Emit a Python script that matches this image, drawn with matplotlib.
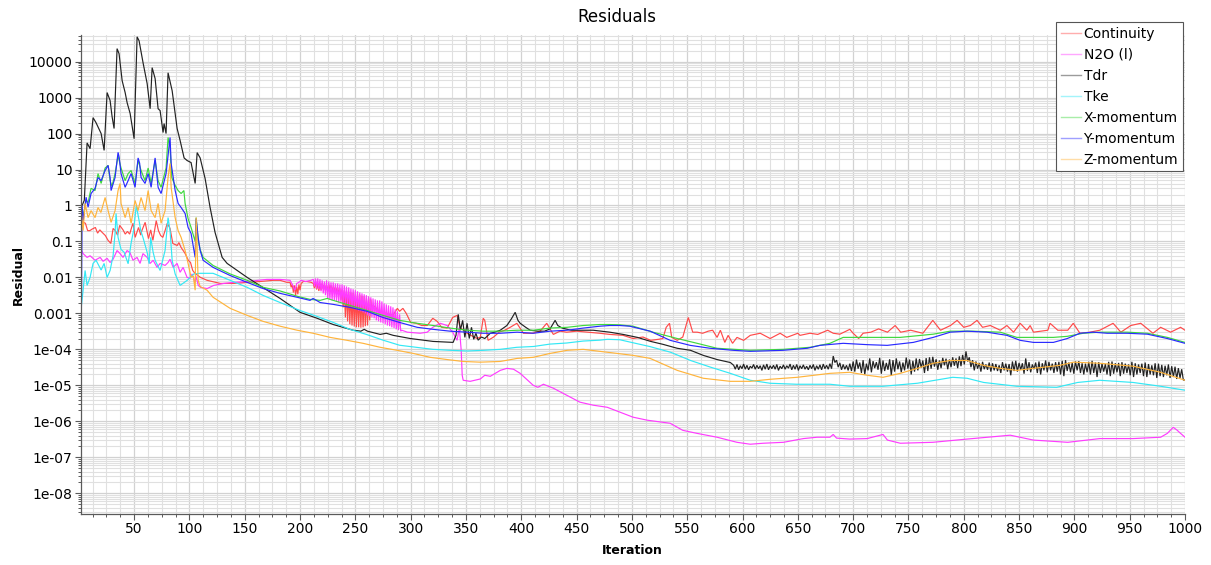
import numpy as np
import matplotlib
matplotlib.use("Agg")
import matplotlib.pyplot as plt
from matplotlib.ticker import FixedLocator, FixedFormatter, LogLocator, MultipleLocator, NullFormatter
from matplotlib.lines import Line2D

# ---------------- data (iteration, residual) ----------------
series_names = ["Continuity", "N2O (l)", "Tdr", "Tke", "X-momentum", "Y-momentum", "Z-momentum"]
series_colors = ["#ff4a4a", "#ff3cff", "#222222", "#33e8f5", "#3ed83e", "#2a2aff", "#ffb43c"]

cont_head = [(2, 1.0), (4, 0.34), (6, 0.32), (8, 0.2), (10, 0.2), (12, 0.22), (15, 0.245), (17, 0.17),
             (19, 0.21), (21, 0.18), (24, 0.146), (26.5, 0.107), (29, 0.088), (31, 0.23), (33, 0.2),
             (35, 0.15), (37, 0.28), (40, 0.21), (42, 0.16), (44, 0.19), (46, 0.16), (48, 0.26),
             (49, 0.32), (51, 0.13), (54, 0.245), (56, 0.15), (57, 0.2), (60, 0.34), (63, 0.12),
             (65, 0.21), (67, 0.107), (70, 0.38), (72, 0.2), (74, 0.146), (76, 0.13), (78, 0.2),
             (80, 0.32), (82.5, 0.23), (84, 0.13), (85, 0.088), (89, 0.077), (90.5, 0.093),
             (92.5, 0.068), (96, 0.047), (99, 0.03), (101, 0.026), (103, 0.0156), (105, 0.013),
             (110, 0.01), (116, 0.0083), (128, 0.0068), (140, 0.0068), (152, 0.0073), (164, 0.0077),
             (176, 0.0083), (182, 0.0083), (188, 0.0073), (191, 0.0073), (192, 5.3e-3), (193, 6.4e-3),
             (194, 3.8e-3), (195, 6.0e-3), (196, 3.16e-3), (197, 5.6e-3), (198, 3.4e-3), (199, 6.4e-3),
             (200, 4.4e-3), (201, 6.8e-3), (203, 7.7e-3), (206, 7.7e-3), (210, 7.3e-3)]
cont_osc1_start = 212
cont_osc1_hi = [6.8e-3, 7.3e-3, 6.8e-3, 6.4e-3, 6.8e-3, 6.4e-3, 6.0e-3, 6.4e-3, 6.0e-3, 5.6e-3, 5.6e-3, 5.3e-3]
cont_osc1_lo = [5.0e-3, 4.6e-3, 4.2e-3, 4.4e-3, 4.8e-3, 4.4e-3, 4.2e-3, 4.4e-3, 4.0e-3, 4.2e-3, 3.9e-3, 3.6e-3]
cont_osc2_start = 236
cont_osc2_hi = [4.9e-3, 4.6e-3, 4.4e-3, 4.2e-3, 4.0e-3, 3.8e-3, 3.7e-3, 3.6e-3, 3.4e-3, 3.3e-3,
                3.1e-3, 3.0e-3, 2.8e-3, 2.6e-3, 2.45e-3]
cont_osc2_lo = [2.3e-3, 1.47e-3, 7.7e-4, 6.0e-4, 5.0e-4, 4.6e-4, 4.3e-4, 4.1e-4, 4.1e-4, 4.0e-4,
                4.1e-4, 4.4e-4, 4.6e-4, 6.4e-4, 1.0e-3]
cont_tail = [(266, 1.67e-3), (268, 1.5e-3), (272, 1.07e-3), (278, 1.0e-3), (284, 8.8e-4), (288, 1.38e-3),
             (290, 1.14e-3), (293, 1.38e-3), (296, 1.0e-3), (300, 5.6e-4), (305, 5.3e-4), (310, 4.6e-4),
             (315, 4.6e-4), (320, 7.3e-4), (324, 6.0e-4), (328, 4.1e-4), (333, 3.9e-4), (338, 7.7e-4),
             (342, 8.8e-4), (345, 3.9e-4), (348, 3.4e-4), (351, 2.8e-4), (355, 2.4e-4), (360, 2.0e-4),
             (363, 2.2e-4), (365.6, 7.3e-4), (367, 6.4e-4), (370, 1.78e-4), (375, 2.2e-4), (380, 3.0e-4),
             (385, 3.4e-4), (390, 4.1e-4), (396, 5.3e-4), (402, 2.8e-4), (410, 2.8e-4), (417, 3.2e-4),
             (423, 5.3e-4), (429, 2.6e-4), (435, 3.2e-4), (441, 3.0e-4), (450, 3.2e-4), (460, 3.0e-4),
             (471, 2.8e-4), (480, 2.6e-4), (492, 2.45e-4), (501, 2.0e-4), (510, 2.2e-4), (517, 1.78e-4),
             (524, 1.9e-4), (528, 2.0e-4), (531, 4.1e-4), (534, 5.3e-4), (536, 2.15e-4), (541, 1.78e-4),
             (546, 2.2e-4), (551, 7.7e-4), (555, 3.0e-4), (559, 3.0e-4), (564, 2.8e-4), (569, 3.2e-4),
             (573, 3.4e-4), (577, 2.15e-4), (580, 3.4e-4), (584, 1.56e-4), (587, 2.45e-4), (591, 1.47e-4),
             (595, 2.15e-4), (601, 1.78e-4), (607, 2.45e-4), (616, 2.8e-4), (625, 2.0e-4), (634, 2.8e-4),
             (640, 2.15e-4), (650, 2.8e-4), (652, 2.45e-4), (661, 2.8e-4), (668, 2.6e-4), (677, 3.4e-4),
             (682, 2.8e-4), (688, 2.64e-4), (697, 3.6e-4), (700, 2.8e-4), (705, 2.0e-4), (709, 2.8e-4),
             (716, 3.0e-4), (723, 3.7e-4), (731, 3.0e-4), (738, 4.6e-4), (743, 3.0e-4), (752, 3.4e-4),
             (763, 2.8e-4), (772, 6.4e-4), (779, 3.4e-4), (788, 4.6e-4), (794, 6.4e-4), (800, 4.1e-4),
             (806, 4.6e-4), (812, 6.4e-4), (817, 4.1e-4), (824, 4.6e-4), (833, 3.4e-4), (839, 4.6e-4),
             (845, 3.0e-4), (851, 5.3e-4), (857, 3.4e-4), (860, 4.6e-4), (863, 3.0e-4), (876, 3.4e-4),
             (878, 5.3e-4), (885, 3.4e-4), (894, 3.4e-4), (899, 5.3e-4), (905, 2.8e-4), (914, 3.0e-4),
             (923, 3.4e-4), (935, 5.3e-4), (942, 3.0e-4), (951, 4.6e-4), (960, 5.3e-4), (971, 2.8e-4),
             (978, 4.1e-4), (987, 3.0e-4), (996, 4.1e-4), (1000, 3.4e-4)]

n2o_head = [(2, 0.06), (3.9, 0.046), (7.5, 0.036), (10.2, 0.04), (14.7, 0.03), (19.3, 0.036), (22, 0.028),
            (25.6, 0.034), (28.3, 0.026), (31, 0.032), (34.6, 0.056), (37.3, 0.046), (40, 0.036),
            (43.7, 0.056), (46.4, 0.048), (49, 0.03), (52.7, 0.036), (55.4, 0.0245), (58, 0.046),
            (61.8, 0.036), (64.5, 0.0245), (67.2, 0.03), (70.8, 0.019), (73.5, 0.0245), (78, 0.0215),
            (80.7, 0.026), (82.5, 0.032), (85.3, 0.019), (88.9, 0.0245), (91.6, 0.0139), (94.3, 0.019),
            (97.9, 0.01), (100.6, 0.0094), (102.4, 0.0125), (105.2, 0.0073), (106, 0.0107), (108, 0.006),
            (110, 0.0053), (116, 0.0049), (122, 0.006), (131, 0.0068), (140, 0.0073), (152, 0.0077),
            (170, 0.0088), (182, 0.0088), (191, 0.0083), (194, 0.0056), (195, 0.0044), (196, 0.0049),
            (197, 0.0068), (199, 0.0073), (201, 0.0083), (205, 0.0077), (210, 0.0083)]
n2o_osc_start = 212
n2o_osc_hi = [8.9e-3, 9.4e-3, 9.4e-3, 8.9e-3, 8.3e-3, 7.7e-3, 8.3e-3, 7.7e-3, 7.3e-3, 7.3e-3,
              6.8e-3, 6.8e-3, 6.4e-3, 6.4e-3, 6.0e-3, 5.6e-3, 5.3e-3, 4.9e-3, 4.7e-3, 4.4e-3,
              4.1e-3, 3.8e-3, 3.6e-3, 3.4e-3, 3.2e-3, 3.0e-3, 2.8e-3, 2.6e-3, 2.45e-3, 2.3e-3,
              2.3e-3, 2.15e-3, 1.9e-3, 1.78e-3, 1.67e-3, 1.57e-3, 1.47e-3, 1.3e-3, 1.14e-3, 9.4e-4]
n2o_osc_lo = [5.6e-3, 4.9e-3, 4.7e-3, 4.1e-3, 3.6e-3, 3.2e-3, 2.6e-3, 2.45e-3, 2.3e-3, 2.3e-3,
              2.15e-3, 2.0e-3, 2.0e-3, 1.9e-3, 1.78e-3, 1.67e-3, 1.57e-3, 1.47e-3, 1.38e-3, 1.3e-3,
              1.2e-3, 1.14e-3, 1.07e-3, 1.0e-3, 8.8e-4, 8.3e-4, 7.7e-4, 7.3e-4, 6.4e-4, 6.0e-4,
              5.6e-4, 5.3e-4, 5.0e-4, 4.6e-4, 4.4e-4, 4.1e-4, 3.9e-4, 3.6e-4, 3.4e-4, 3.2e-4]
n2o_tail = [(292, 3.4e-4), (297, 3.0e-4), (308.6, 2.8e-4), (315, 3.0e-4), (320, 4.1e-4), (326.7, 5.3e-4),
            (333, 4.6e-4), (338, 3.0e-4), (342, 1.78e-4), (344, 4.1e-4), (345.7, 9.4e-5), (346.6, 1.9e-5),
            (347.5, 1.38e-5), (353.8, 1.29e-5), (363, 1.5e-5), (367, 1.9e-5), (372, 1.78e-5),
            (381, 2.6e-5), (387, 2.96e-5), (393, 2.8e-5), (399, 2.15e-5), (410.8, 1.0e-5), (415, 8.8e-6),
            (420, 1.07e-5), (429, 8.3e-6), (441.5, 5.2e-6), (453, 3.4e-6), (465, 2.8e-6), (477.7, 2.45e-6),
            (489, 1.8e-6), (501, 1.3e-6), (514, 1.07e-6), (534.6, 8.8e-7), (546, 5.6e-7), (559, 4.6e-7),
            (577, 3.6e-7), (595, 2.6e-7), (607, 2.3e-7), (618.7, 2.45e-7), (637, 2.6e-7), (655, 3.3e-7),
            (667.5, 3.6e-7), (679, 3.6e-7), (682, 4.3e-7), (685, 3.4e-7), (697, 3.2e-7), (712.7, 3.3e-7),
            (727, 4.3e-7), (731, 3.0e-7), (742.6, 2.45e-7), (772, 2.6e-7), (803, 3.2e-7), (842, 4.1e-7),
            (863, 3.0e-7), (894, 2.6e-7), (923, 3.3e-7), (953, 3.3e-7), (978, 3.6e-7), (984, 4.6e-7),
            (989.4, 6.8e-7), (993, 5.6e-7), (996, 4.6e-7), (1000, 3.6e-7)]

tdr_head = [(2, 0.9), (3, 1.0), (5, 1.4), (7.5, 55), (10.2, 38), (12.9, 277), (15.6, 200), (20.2, 100),
            (22.9, 34), (25.6, 1380), (28.3, 830), (30.1, 296), (31.9, 138), (34.6, 23000), (36.4, 16600),
            (39.2, 2950), (41.9, 1380), (43.7, 720), (46.4, 363), (50, 72), (52.7, 49000), (54.5, 38000),
            (58.1, 9300), (61.8, 2450), (64.5, 490), (66.3, 6800), (69, 3380), (71.7, 490), (73.5, 436),
            (76.2, 107), (77.1, 190), (78.9, 100), (80.7, 4900), (84.4, 1550), (88.9, 138), (91.6, 64),
            (95.2, 21), (97.9, 17.8), (101.5, 15.6), (105.2, 4.1), (107, 29.5), (109.7, 21), (114.2, 5.6),
            (118.7, 0.88), (123.2, 0.178), (129.6, 0.036), (134.1, 0.0245), (152.2, 0.01), (182, 2.6e-3),
            (200, 1.07e-3), (215.5, 7.3e-4), (230, 4.9e-4), (248, 3.4e-4), (255, 3.2e-4), (258, 3.6e-4),
            (261, 3.2e-4), (272.4, 2.6e-4), (278, 2.8e-4), (284.2, 2.45e-4), (299.6, 2.0e-4),
            (320.3, 1.66e-4), (338.4, 1.56e-4), (341, 2.45e-4), (343, 9.4e-4), (345, 3.4e-4), (347, 6.4e-4),
            (349, 2.15e-4), (351, 5.3e-4), (353, 2.0e-4), (355, 4.1e-4), (357, 1.9e-4), (359, 2.8e-4),
            (361, 1.8e-4), (364, 2.2e-4), (367, 2.0e-4), (370, 2.45e-4), (372, 2.8e-4), (376, 3.0e-4),
            (381, 3.4e-4), (387, 4.6e-4), (391, 7.0e-4), (394.5, 1.07e-3), (397, 6.4e-4), (399, 5.3e-4),
            (404, 4.1e-4), (408, 3.4e-4), (415, 3.2e-4), (421, 3.2e-4), (426, 3.7e-4), (430.6, 6.4e-4),
            (433, 4.6e-4), (437, 3.9e-4), (445, 3.4e-4), (456, 3.4e-4), (465, 3.4e-4), (480, 3.0e-4),
            (492, 2.6e-4), (505, 2.15e-4), (517, 1.66e-4), (528, 1.38e-4), (541, 1.07e-4), (553, 9.4e-5),
            (564.5, 6.8e-5), (577, 5.2e-5), (589, 4.3e-5)]
tdr_noise_start = 592
tdr_noise_step = 1.5
tdr_noise_hi = [3.6e-5, 3.8e-5, 3.5e-5, 3.9e-5, 3.6e-5, 3.4e-5, 3.8e-5, 3.6e-5, 3.5e-5, 3.7e-5,
                3.9e-5, 3.5e-5, 3.6e-5, 3.8e-5, 3.4e-5, 3.7e-5, 3.5e-5, 3.9e-5, 3.6e-5, 3.8e-5,
                3.5e-5, 3.7e-5, 3.4e-5, 3.6e-5, 3.8e-5, 3.5e-5, 3.7e-5, 3.9e-5, 3.6e-5, 4.0e-5,
                6.5e-5, 5.0e-5, 4.2e-5, 3.8e-5, 3.6e-5, 4.0e-5, 4.6e-5, 5.2e-5, 4.3e-5, 5.0e-5,
                4.0e-5, 5.6e-5, 4.7e-5, 4.4e-5, 5.8e-5, 4.9e-5, 4.2e-5, 5.3e-5, 5.0e-5, 5.6e-5,
                4.6e-5, 4.3e-5, 5.9e-5, 5.2e-5, 4.8e-5, 5.6e-5, 5.4e-5, 4.9e-5, 5.7e-5, 6.0e-5,
                6.2e-5, 5.3e-5, 4.9e-5, 5.8e-5, 5.5e-5, 5.2e-5, 6.0e-5, 5.6e-5, 6.4e-5, 7.0e-5,
                8.8e-5, 6.0e-5, 5.0e-5, 4.6e-5, 4.2e-5, 4.5e-5, 3.8e-5, 4.3e-5, 4.1e-5, 3.9e-5,
                3.6e-5, 4.4e-5, 4.0e-5, 3.9e-5, 4.6e-5, 4.8e-5, 4.2e-5, 4.1e-5, 5.6e-5, 4.4e-5,
                3.8e-5, 4.3e-5, 4.6e-5, 4.1e-5, 4.9e-5, 4.5e-5, 4.0e-5, 4.4e-5, 4.5e-5, 4.8e-5,
                5.0e-5, 4.3e-5, 4.2e-5, 4.6e-5, 4.7e-5, 4.1e-5, 4.0e-5, 4.5e-5, 4.8e-5, 4.3e-5,
                4.4e-5, 4.0e-5, 3.9e-5, 4.5e-5, 4.6e-5, 4.1e-5, 4.2e-5, 4.4e-5, 4.0e-5, 3.8e-5,
                4.5e-5, 4.1e-5, 3.8e-5, 4.0e-5, 4.3e-5, 3.9e-5, 3.6e-5, 4.1e-5, 4.0e-5, 3.7e-5,
                3.5e-5, 3.8e-5, 3.4e-5, 3.3e-5, 3.0e-5, 2.8e-5]
tdr_noise_lo = [2.8e-5, 2.7e-5, 2.9e-5, 2.8e-5, 2.7e-5, 3.0e-5, 2.8e-5, 2.9e-5, 2.6e-5, 2.8e-5,
                2.7e-5, 2.9e-5, 2.8e-5, 2.6e-5, 2.9e-5, 2.8e-5, 3.0e-5, 2.7e-5, 2.8e-5, 2.6e-5,
                2.9e-5, 2.8e-5, 2.7e-5, 2.9e-5, 2.6e-5, 2.8e-5, 2.7e-5, 2.9e-5, 2.8e-5, 2.9e-5,
                4.3e-5, 3.2e-5, 2.7e-5, 2.8e-5, 2.6e-5, 2.5e-5, 2.4e-5, 2.9e-5, 2.2e-5, 2.0e-5,
                2.6e-5, 2.3e-5, 3.0e-5, 2.7e-5, 2.1e-5, 2.5e-5, 2.7e-5, 1.9e-5, 2.4e-5, 2.8e-5,
                2.3e-5, 2.6e-5, 2.9e-5, 2.0e-5, 2.4e-5, 2.6e-5, 3.1e-5, 2.2e-5, 2.5e-5, 2.9e-5,
                3.3e-5, 2.7e-5, 3.0e-5, 3.6e-5, 2.8e-5, 3.2e-5, 3.5e-5, 3.0e-5, 3.4e-5, 3.8e-5,
                4.6e-5, 3.2e-5, 2.6e-5, 2.9e-5, 2.4e-5, 2.8e-5, 2.7e-5, 2.4e-5, 2.6e-5, 2.5e-5,
                2.2e-5, 2.6e-5, 2.4e-5, 1.9e-5, 2.5e-5, 2.4e-5, 2.7e-5, 2.1e-5, 2.5e-5, 2.3e-5,
                2.8e-5, 2.2e-5, 2.0e-5, 2.6e-5, 2.3e-5, 2.6e-5, 2.2e-5, 2.4e-5, 2.0e-5, 1.8e-5,
                2.5e-5, 2.3e-5, 2.1e-5, 2.6e-5, 2.2e-5, 2.0e-5, 2.3e-5, 2.0e-5, 2.2e-5, 1.7e-5,
                2.2e-5, 2.4e-5, 2.0e-5, 1.8e-5, 2.1e-5, 2.3e-5, 1.8e-5, 2.1e-5, 2.2e-5, 1.9e-5,
                1.7e-5, 2.0e-5, 2.2e-5, 1.8e-5, 1.7e-5, 2.0e-5, 1.9e-5, 1.6e-5, 1.8e-5, 1.7e-5,
                1.9e-5, 1.6e-5, 1.7e-5, 1.5e-5, 1.6e-5, 1.4e-5]
tdr_tail = [(1000, 1.4e-5)]

tke = [(2, 1.3e-3), (3.9, 4.4e-3), (5.7, 0.0156), (7.5, 0.006), (10.2, 0.01), (12.9, 0.0245), (15.6, 0.03),
       (20.2, 0.016), (22.9, 0.0245), (25.6, 0.01), (28.3, 0.0156), (31, 0.04), (32.8, 0.17), (33.7, 0.6),
       (35.5, 0.13), (38.2, 0.06), (41, 0.05), (44.6, 0.024), (47.3, 0.09), (49.5, 0.2), (52, 1.0),
       (54.5, 0.38), (56, 0.2), (58, 0.13), (61.8, 0.05), (63.6, 0.024), (65, 0.13), (67.2, 0.05),
       (69, 0.03), (73.5, 0.0156), (78, 0.056), (80.7, 0.46), (82.5, 0.2), (84.4, 0.03), (87.1, 0.0125),
       (91.6, 0.006), (98, 0.0083), (104, 0.0125), (109.7, 0.013), (116, 0.013), (121.4, 0.013),
       (136.8, 8.3e-3), (152.2, 5.3e-3), (166.6, 3.16e-3), (182, 2.0e-3), (200, 1.2e-3), (215, 8.3e-4),
       (230, 5.6e-4), (245, 3.6e-4), (260, 2.6e-4), (275, 1.8e-4), (290, 1.3e-4), (305, 1.14e-4),
       (320, 1.0e-4), (336, 9.4e-5), (351, 9.0e-5), (366, 9.4e-5), (381, 1.0e-4), (396, 1.14e-4),
       (411, 1.2e-4), (426, 1.4e-4), (441, 1.5e-4), (456, 1.7e-4), (471, 1.8e-4), (478, 1.9e-4),
       (489, 1.85e-4), (498, 1.6e-4), (516, 1.2e-4), (535, 8.3e-5), (553, 4.9e-5), (571, 3.2e-5),
       (589, 2.15e-5), (607, 1.38e-5), (625, 1.14e-5), (649, 1.07e-5), (679, 1.07e-5), (697, 9.4e-6),
       (727, 9.4e-6), (758, 1.14e-5), (790, 1.67e-5), (803, 1.57e-5), (818, 1.2e-5), (848, 9.4e-6),
       (884, 8.8e-6), (903, 1.2e-5), (923, 1.38e-5), (953, 1.2e-5), (978, 9.4e-6), (1000, 7.3e-6)]

xmom = [(2, 1.0), (4, 0.5), (6.6, 1.4), (8.4, 1.2), (11.1, 3.0), (14.7, 2.6), (17.4, 7.7), (20.2, 4.1),
        (23.8, 11), (26.5, 13), (28.3, 4.9), (30, 3.4), (32.8, 7.7), (35.5, 24), (38.2, 11), (41.9, 4.9),
        (44.6, 7.7), (47.3, 9.4), (50.9, 4.1), (53.6, 18), (56.3, 9.4), (59.9, 4.9), (62.7, 11), (65.4, 4.1),
        (69, 18), (71.7, 4.9), (74.4, 3.2), (78.9, 11), (80.7, 78), (82.5, 40), (84, 6.0), (87.1, 3.6),
        (89.8, 2.6), (92.5, 2.15), (95, 2.6), (96.1, 1.14), (98.8, 0.43), (101.5, 0.245), (105.2, 0.1),
        (106.1, 0.46), (107.9, 0.107), (109.7, 0.06), (112.4, 0.036), (121.4, 0.0215), (136.8, 0.0125),
        (152.2, 8.3e-3), (166.6, 5.3e-3), (182, 4.2e-3), (197.4, 3.0e-3), (209, 2.45e-3), (218.2, 2.3e-3),
        (224.5, 2.6e-3), (230, 2.3e-3), (245, 1.67e-3), (260.7, 1.2e-3), (275, 8.8e-4), (290, 6.4e-4),
        (305.9, 5.3e-4), (320.3, 4.6e-4), (335.7, 3.9e-4), (351, 3.4e-4), (365.6, 3.2e-4), (381, 3.2e-4),
        (396.3, 3.4e-4), (410.8, 3.4e-4), (426, 3.9e-4), (441.5, 4.1e-4), (456, 4.6e-4), (471, 4.9e-4),
        (480, 4.9e-4), (489, 4.8e-4), (501, 4.4e-4), (519, 3.0e-4), (541, 2.0e-4), (559, 1.47e-4),
        (577, 1.07e-4), (607, 9.4e-5), (637, 1.0e-4), (661, 1.14e-4), (679, 1.47e-4), (691, 2.15e-4),
        (712.7, 2.15e-4), (742.6, 2.15e-4), (772.4, 2.64e-4), (787.8, 3.2e-4), (808.6, 3.2e-4),
        (833, 3.0e-4), (848, 2.15e-4), (863, 2.15e-4), (881, 2.15e-4), (893.6, 2.3e-4), (908, 2.8e-4),
        (923, 3.0e-4), (947.8, 3.0e-4), (966, 2.8e-4), (984, 2.15e-4), (1000, 1.56e-4)]

ymom = [(2, 3e-5), (3, 1.0), (4, 0.38), (6.6, 1.7), (8.4, 0.9), (11.1, 2.15), (14.7, 3.0), (17.4, 6.0),
        (20.2, 4.9), (23.8, 9.4), (26.5, 13), (28.3, 6.0), (29.2, 2.6), (32.8, 6.0), (35.5, 30), (36.5, 22),
        (38.2, 7.7), (41.9, 3.2), (44.6, 4.9), (47.3, 7.7), (50.9, 3.2), (53.6, 21), (55, 15), (56.3, 6.0),
        (59.9, 4.1), (62.7, 7.7), (65.4, 3.2), (69, 21), (71.7, 3.2), (74.4, 2.15), (78.9, 7.7), (82.5, 78),
        (83.5, 14.7), (87.1, 2.6), (89.8, 1.14), (92.5, 0.88), (96.1, 0.6), (98.8, 0.245), (101.5, 0.167),
        (105.2, 0.036), (106.1, 0.43), (107.9, 0.13), (109.7, 0.056), (112.4, 0.03), (121.4, 0.019),
        (136.8, 0.0113), (152.2, 7.3e-3), (166.6, 4.9e-3), (182, 3.6e-3), (197.4, 2.8e-3), (209, 2.3e-3),
        (211.8, 2.6e-3), (218.2, 2.0e-3), (230, 1.78e-3), (245, 1.47e-3), (260.7, 1.14e-3), (275, 7.7e-4),
        (290, 5.6e-4), (305.9, 4.1e-4), (320.3, 3.6e-4), (335.7, 3.2e-4), (351, 3.0e-4), (365.6, 2.8e-4),
        (381, 2.8e-4), (396.3, 3.0e-4), (410.8, 2.8e-4), (426, 3.2e-4), (441.5, 3.4e-4), (456, 3.9e-4),
        (471, 4.4e-4), (480, 4.6e-4), (489, 4.6e-4), (498, 4.4e-4), (516.5, 3.2e-4), (534.6, 1.78e-4),
        (552.7, 1.29e-4), (570.8, 1.07e-4), (591.6, 9.4e-5), (607, 8.8e-5), (636.8, 9.4e-5),
        (658.5, 1.07e-4), (670, 1.29e-4), (691, 1.47e-4), (712.7, 1.35e-4), (730.8, 1.29e-4),
        (754.4, 1.56e-4), (772.4, 2.15e-4), (787.8, 3.0e-4), (803, 3.2e-4), (821, 3.0e-4), (839, 2.45e-4),
        (851, 1.78e-4), (863, 1.56e-4), (881, 1.56e-4), (893.6, 2.0e-4), (905, 2.8e-4), (917, 3.0e-4),
        (929.7, 2.8e-4), (947.8, 2.8e-4), (966, 2.64e-4), (984, 2.0e-4), (1000, 1.47e-4)]

zmom = [(2.1, 0.72), (3.9, 0.2), (5.7, 1.14), (8.4, 0.46), (11.1, 0.72), (14.7, 0.46), (17.4, 0.88),
        (20, 0.64), (23.8, 1.67), (26.5, 0.72), (29.2, 0.34), (32.8, 0.72), (35.5, 2.6), (37.3, 4.1),
        (38.2, 1.14), (41.9, 0.46), (44.6, 0.88), (47.3, 0.32), (50.9, 1.38), (53.6, 0.72), (56.3, 1.67),
        (59.9, 0.72), (62.7, 2.6), (65.4, 0.72), (69, 0.46), (71.7, 1.14), (74.4, 0.32), (78, 0.72),
        (80.7, 6.0), (82.5, 14.7), (83.5, 3.2), (87.1, 0.46), (89.8, 0.2), (92.5, 0.13), (96.1, 0.056),
        (98.8, 0.0245), (101.5, 0.01), (103.5, 0.011), (105.2, 4.4e-3), (106.1, 0.46), (107.9, 8.3e-3),
        (109.7, 5.6e-3), (116, 4.4e-3), (121.4, 2.8e-3), (136.8, 1.38e-3), (152.2, 8.8e-4), (166.6, 6.0e-4),
        (182, 4.4e-4), (197.4, 3.4e-4), (211.8, 2.8e-4), (227.2, 2.15e-4), (242.6, 1.78e-4), (257, 1.47e-4),
        (272.4, 1.14e-4), (287.8, 9.4e-5), (302.3, 7.7e-5), (317.6, 6.0e-5), (333, 5.2e-5), (347.5, 4.6e-5),
        (362.8, 4.4e-5), (381, 4.6e-5), (396.3, 5.6e-5), (410.8, 6.0e-5), (426, 7.7e-5), (441.5, 9.4e-5),
        (456, 1.0e-4), (471, 8.8e-5), (486.7, 7.7e-5), (501, 6.8e-5), (516.5, 5.6e-5), (541, 2.6e-5),
        (564.5, 1.57e-5), (588.9, 1.29e-5), (607, 1.29e-5), (625, 1.47e-5), (649.5, 1.67e-5), (679, 2.15e-5),
        (697, 2.3e-5), (712.7, 1.9e-5), (727, 1.67e-5), (742.6, 2.15e-5), (758, 2.96e-5), (772.4, 4.1e-5),
        (787.8, 4.9e-5), (803, 4.9e-5), (817.6, 3.6e-5), (833, 2.96e-5), (848, 2.6e-5), (863, 2.96e-5),
        (887, 3.6e-5), (899, 4.4e-5), (923, 4.1e-5), (953, 3.4e-5), (978, 2.3e-5), (1000, 1.38e-5)]

y_tick_values = [1e-8, 1e-7, 1e-6, 1e-5, 1e-4, 1e-3, 1e-2, 1e-1, 1, 10, 100, 1000, 10000]
y_tick_labels = ["1e-08", "1e-07", "1e-06", "1e-05", "1e-04", "0.001", "0.01", "0.1", "1", "10",
                 "100", "1000", "10000"]
x_tick_values = list(range(50, 1001, 50))


# ---------------- helpers to assemble segments ----------------
def pairs(p):
    a = np.array(p, dtype=float)
    return a[:, 0], a[:, 1]


def alternating(start, hi, lo, step=1):
    n = len(hi)
    it = start + step * np.arange(2 * n)
    val = np.column_stack([hi, lo]).ravel()
    return it, val


def join(*segs):
    return (np.concatenate([s[0] for s in segs]), np.concatenate([s[1] for s in segs]))


cont_x, cont_y = join(pairs(cont_head),
                      alternating(cont_osc1_start, cont_osc1_hi, cont_osc1_lo),
                      alternating(cont_osc2_start, cont_osc2_hi, cont_osc2_lo),
                      pairs(cont_tail))
n2o_x, n2o_y = join(pairs(n2o_head), alternating(n2o_osc_start, n2o_osc_hi, n2o_osc_lo), pairs(n2o_tail))
tdr_x, tdr_y = join(pairs(tdr_head),
                    alternating(tdr_noise_start, tdr_noise_hi, tdr_noise_lo, tdr_noise_step),
                    pairs(tdr_tail))
tke_x, tke_y = pairs(tke)
xm_x, xm_y = pairs(xmom)
ym_x, ym_y = pairs(ymom)
zm_x, zm_y = pairs(zmom)

all_series = [(cont_x, cont_y), (n2o_x, n2o_y), (tdr_x, tdr_y), (tke_x, tke_y),
              (xm_x, xm_y), (ym_x, ym_y), (zm_x, zm_y)]

# ---------------- figure ----------------
W, H = 1211, 565
fig = plt.figure(figsize=(W / 100, H / 100), dpi=100)
ax_l, ax_r, ax_t, ax_b = 81, 1185, 35, 514
ax = fig.add_axes([ax_l / W, 1 - ax_b / H, (ax_r - ax_l) / W, (ax_b - ax_t) / H])

ax.set_yscale("log")
ax.set_xlim(2, 1000)
ax.set_ylim(2.64e-9, 5.5e4)

ax.yaxis.set_major_locator(FixedLocator(y_tick_values))
ax.yaxis.set_major_formatter(FixedFormatter(y_tick_labels))
ax.yaxis.set_minor_locator(LogLocator(base=10, subs=np.arange(2, 10), numticks=100))
ax.yaxis.set_minor_formatter(NullFormatter())
ax.xaxis.set_major_locator(FixedLocator(x_tick_values))
ax.xaxis.set_major_formatter(FixedFormatter([str(v) for v in x_tick_values]))
ax.xaxis.set_minor_locator(MultipleLocator(12.5))

ax.grid(which="major", color="#d2d2d2", linewidth=0.9)
ax.grid(which="minor", color="#e0e0e0", linewidth=0.8)
ax.set_axisbelow(True)

for s in ["top", "right"]:
    ax.spines[s].set_visible(False)
for s in ["left", "bottom"]:
    ax.spines[s].set_color("#5a5a5a")
    ax.spines[s].set_linewidth(0.9)

ax.tick_params(which="major", direction="out", length=4, width=0.8, color="#5a5a5a",
               labelsize=10, labelcolor="black", pad=2)
ax.tick_params(which="minor", direction="out", length=2.5, width=0.7, color="#5a5a5a")

for (x, y), c in zip(all_series, series_colors):
    ax.plot(x, y, color=c, linewidth=0.85, solid_joinstyle="miter")

fig.text(617 / W, 1 - 17 / H, "Residuals", ha="center", va="center", fontsize=12)
fig.text(18 / W, 1 - 275 / H, "Residual", ha="center", va="center", rotation=90, fontsize=9,
         fontweight="bold")
fig.text(632 / W, 1 - 551 / H, "Iteration", ha="center", va="center", fontsize=9, fontweight="bold")

handles = [Line2D([0], [0], color=c, linewidth=1.0, alpha=0.45) for c in series_colors]
leg = ax.legend(handles, series_names, loc="upper right", bbox_to_anchor=(1183 / W, 1 - 22 / H),
                bbox_transform=fig.transFigure, fontsize=10, frameon=True, fancybox=False,
                edgecolor="#555555", framealpha=1.0, handlelength=1.45, handletextpad=0.2,
                labelspacing=0.5, borderpad=0.35, borderaxespad=0.0)
leg.get_frame().set_linewidth(0.8)

fig.savefig("out.png", dpi=100)
